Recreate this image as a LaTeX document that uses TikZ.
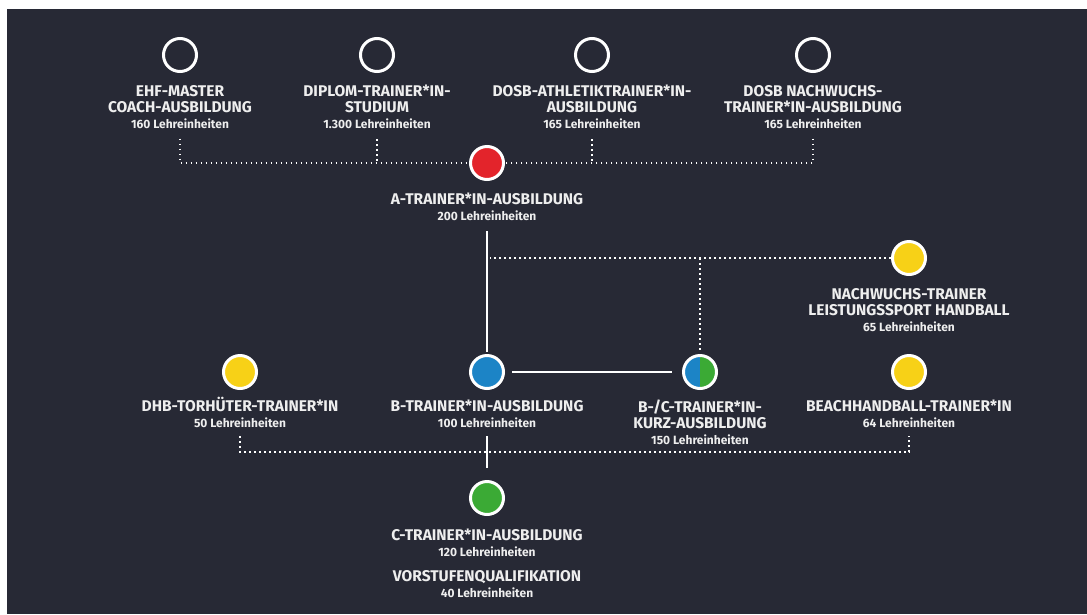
\documentclass[tikz,border=0pt]{standalone}
\usepackage{fontspec}
\setmainfont{Fira Sans}
\usetikzlibrary{positioning}
\definecolor{bgdark}{HTML}{272935}
\definecolor{textwhite}{HTML}{EEEEEE}
\definecolor{ared}{HTML}{E3242B}
\definecolor{bblue}{HTML}{1C84C6}
\definecolor{cgreen}{HTML}{3BAA35}
\definecolor{eyellow}{HTML}{F7D117}
\tikzset{
  stage/.style={circle,draw=white,line width=3pt,minimum size=33pt,inner sep=0pt,fill=bgdark},
  title/.style={text=textwhite,align=center,inner sep=0pt,font=\fontsize{15.5}{16}\selectfont\bfseries},
  solidlink/.style={draw=white,line width=1.6pt},
  dotlink/.style={draw=white,line width=1.6pt,dash pattern=on 1.6pt off 3.4pt}
}
\newcommand{\lehr}[1]{\\[0pt]{\fontsize{12}{17}\selectfont #1 Lehreinheiten}}
\begin{document}
\begin{tikzpicture}[x=1pt,y=-1pt]
\useasboundingbox (0,0) rectangle (1087,614);
\fill[white] (0,0) rectangle (1087,614);
\fill[bgdark] (7,9) rectangle (1087,614);
% top row
\node[stage] (ehf) at (180,55) {};
\node[stage] (diplom) at (377,55) {};
\node[stage] (dosba) at (592,55) {};
\node[stage] (dosbn) at (813,55) {};
\node[title,below=12pt of ehf] (ehfl) {EHF-MASTER\\COACH-AUSBILDUNG\lehr{160}};
\node[title,below=12pt of diplom] (diploml) {DIPLOM-TRAINER*IN-\\STUDIUM\lehr{1.300}};
\node[title,below=12pt of dosba] (dosbal) {DOSB-ATHLETIKTRAINER*IN-\\AUSBILDUNG\lehr{165}};
\node[title,below=12pt of dosbn] (dosbnl) {DOSB NACHWUCHS-\\TRAINER*IN-AUSBILDUNG\lehr{165}};
% A
\node[stage,fill=ared] (at) at (487,163) {};
\node[title,below=12pt of at] (atl) {A-TRAINER*IN-AUSBILDUNG\lehr{200}};
\node[stage,fill=eyellow] (nw) at (909,258) {};
\node[title,below=12pt of nw] (nwl) {NACHWUCHS-TRAINER\\LEISTUNGSSPORT HANDBALL\lehr{65}};
% B row
\node[stage,fill=eyellow] (dhb) at (240,372) {};
\node[stage,fill=bblue] (bt) at (487,372) {};
\node[stage,path picture={
  \fill[bblue] (path picture bounding box.south west) rectangle (path picture bounding box.north);
  \fill[cgreen] (path picture bounding box.south) rectangle (path picture bounding box.north east);}] (bc) at (700,372) {};
\node[stage,fill=eyellow] (beach) at (909,372) {};
\node[title,below=7pt of dhb] (dhbl) {DHB-TORHÜTER-TRAINER*IN\lehr{50}};
\node[title,below=10pt of bt] (btl) {B-TRAINER*IN-AUSBILDUNG\lehr{100}};
\node[title,below=10pt of bc] (bcl) {B-/C-TRAINER*IN-\\KURZ-AUSBILDUNG\lehr{150}};
\node[title,below=10pt of beach] (beachl) {BEACHHANDBALL-TRAINER*IN\lehr{64}};
% C
\node[stage,fill=cgreen] (ct) at (487,498) {};
\node[title,below=13pt of ct] (ctl) {C-TRAINER*IN-AUSBILDUNG\lehr{120}};
\node[title,below=13pt of ctl] (vql) {VORSTUFENQUALIFIKATION\lehr{40}};
% links
\draw[dotlink] ([yshift=-10pt]ehfl.south) |- (at.west);
\draw[dotlink] ([yshift=-10pt]diploml.south) -- (diploml.south |- at);
\draw[dotlink] ([yshift=-10pt]dosbnl.south) |- (at.east);
\draw[dotlink] ([yshift=-10pt]dosbal.south) -- (dosbal.south |- at);
\draw[solidlink,shorten >=2pt] ([yshift=-10pt]atl.south) -- (bt.north);
\coordinate (jn) at (bc |- nw);
\draw[dotlink,shorten >=3pt] (nw.west) -- (nw.west -| bt);
\draw[dotlink,shorten >=2pt] (jn) -- (bc.north);
\draw[solidlink,shorten <=7pt,shorten >=10pt] (bt.east) -- (bc.west);
\path (bt) ++(0,80) coordinate (jb);
\draw[dotlink] ([yshift=-8pt]dhbl.south) |- (jb) -| ([yshift=-8pt]beachl.south);
\draw[solidlink,shorten >=12pt] ([yshift=-8pt]btl.south) -- (ct.north);
\end{tikzpicture}
\end{document}
